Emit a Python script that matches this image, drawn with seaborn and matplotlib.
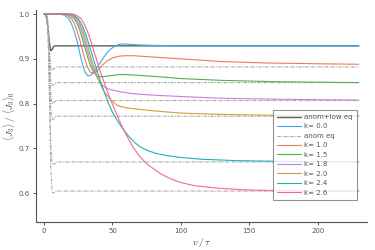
import numpy as np
import pandas as pd
import matplotlib
matplotlib.use("Agg")
import matplotlib.pyplot as plt
import seaborn as sns

# ---- data ----
t_black = [0, 1, 2, 3, 4, 5, 6, 7, 8, 230]
v_black = [1.0, 0.999, 0.99, 0.965, 0.935, 0.918, 0.921, 0.927, 0.929, 0.929]

t_anom = [0, 2, 3, 4, 5, 6, 7, 9, 230]
v_anom_10 = [1.0, 0.998, 0.98, 0.92, 0.876, 0.874, 0.878, 0.882, 0.882]
v_anom_15 = [1.0, 0.998, 0.975, 0.90, 0.850, 0.840, 0.842, 0.847, 0.847]
v_anom_18 = [1.0, 0.998, 0.970, 0.88, 0.815, 0.800, 0.802, 0.807, 0.807]
v_anom_20 = [1.0, 0.998, 0.965, 0.86, 0.785, 0.765, 0.766, 0.772, 0.772]
v_anom_24 = [1.0, 0.998, 0.960, 0.83, 0.700, 0.665, 0.664, 0.670, 0.670]
v_anom_26 = [1.0, 0.998, 0.955, 0.81, 0.650, 0.603, 0.600, 0.605, 0.605]

t_k00 = [0, 12, 15, 18, 20, 22, 24, 26, 28, 30, 32, 34, 36, 38, 41, 44, 47, 50, 53, 56, 60, 65, 70, 80, 100, 230]
v_k00 = [1.0, 1.0, 0.997, 0.99, 0.979, 0.962, 0.942, 0.915, 0.889, 0.870, 0.862, 0.863, 0.869, 0.877, 0.891,
         0.905, 0.917, 0.925, 0.930, 0.933, 0.933, 0.932, 0.931, 0.930, 0.929, 0.929]

t_k10 = [0, 14, 17, 20, 22, 24, 26, 28, 30, 32, 34, 36, 38, 40, 43, 46, 50, 55, 60, 65, 70, 80, 100, 130, 160, 200, 230]
v_k10 = [1.0, 1.0, 0.997, 0.99, 0.98, 0.964, 0.944, 0.92, 0.897, 0.88, 0.870, 0.868, 0.871, 0.877, 0.887, 0.895,
         0.902, 0.906, 0.907, 0.907, 0.906, 0.904, 0.900, 0.894, 0.891, 0.889, 0.888]

t_k15 = [0, 16, 19, 22, 24, 26, 28, 30, 32, 34, 36, 38, 40, 42, 45, 50, 55, 60, 65, 70, 80, 100, 130, 170, 230]
v_k15 = [1.0, 1.0, 0.997, 0.99, 0.98, 0.965, 0.946, 0.924, 0.903, 0.885, 0.872, 0.864, 0.861, 0.860, 0.861, 0.863,
         0.865, 0.865, 0.864, 0.863, 0.861, 0.856, 0.852, 0.849, 0.847]

t_k18 = [0, 17, 20, 23, 25, 27, 29, 31, 33, 35, 37, 39, 41, 43, 45, 48, 52, 57, 63, 70, 80, 100, 130, 170, 230]
v_k18 = [1.0, 1.0, 0.997, 0.99, 0.98, 0.966, 0.948, 0.926, 0.905, 0.886, 0.870, 0.857, 0.847, 0.840, 0.836, 0.832,
         0.829, 0.826, 0.823, 0.821, 0.819, 0.816, 0.812, 0.810, 0.808]

t_k20 = [0, 18, 21, 24, 26, 28, 30, 32, 34, 36, 38, 40, 42, 44, 47, 50, 53, 57, 62, 68, 80, 100, 130, 170, 230]
v_k20 = [1.0, 1.0, 0.997, 0.99, 0.98, 0.966, 0.948, 0.927, 0.906, 0.886, 0.868, 0.852, 0.838, 0.827, 0.815, 0.805,
         0.797, 0.793, 0.790, 0.788, 0.784, 0.779, 0.776, 0.774, 0.773]

t_k24 = [0, 19, 22, 25, 27, 29, 31, 33, 35, 37, 39, 41, 43, 45, 47, 50, 54, 58, 62, 66, 70, 76, 82, 90, 100, 115, 140, 180, 230]
v_k24 = [1.0, 1.0, 0.997, 0.99, 0.98, 0.967, 0.95, 0.931, 0.911, 0.891, 0.871, 0.852, 0.835, 0.818, 0.802, 0.781,
         0.760, 0.742, 0.727, 0.714, 0.704, 0.695, 0.689, 0.684, 0.680, 0.676, 0.673, 0.671, 0.670]

t_k26 = [0, 21, 24, 27, 29, 31, 33, 35, 37, 39, 41, 43, 45, 47, 50, 53, 56, 60, 65, 70, 75, 80, 85, 92, 100, 110, 125, 145, 170, 200, 230]
v_k26 = [1.0, 1.0, 0.997, 0.99, 0.98, 0.967, 0.951, 0.932, 0.912, 0.892, 0.873, 0.855, 0.838, 0.822, 0.799, 0.777,
         0.756, 0.731, 0.703, 0.682, 0.666, 0.655, 0.644, 0.633, 0.624, 0.617, 0.612, 0.608, 0.606, 0.605, 0.605]

k_labels = ["k= 1.0", "k= 1.5", "k= 1.8", "k= 2.0", "k= 2.4", "k= 2.6"]
x_ticks = [0, 50, 100, 150, 200]
y_ticks = [0.6, 0.7, 0.8, 0.9, 1.0]

# ---- style ----
sns.set_style("ticks")
plt.rcParams["font.family"] = ["DejaVu Sans"]
plt.rcParams["mathtext.fontset"] = "cm"

fig, ax = plt.subplots(figsize=(3.75, 2.5), dpi=100)
fig.subplots_adjust(left=0.096, right=0.978, bottom=0.112, top=0.96)

col_black = "#5e5e5e"
col_anom = "#a8a8a8"
anom_ls = (0, (3, 1, 1, 1))
colors = {
    "k= 0.0": "#3fa7ee",
    "k= 1.0": "#ee7a58",
    "k= 1.5": "#4fb150",
    "k= 1.8": "#c97fe2",
    "k= 2.0": "#c4a33a",
    "k= 2.4": "#22b3b3",
    "k= 2.6": "#f2679b",
}
lw = 0.8

anom_sets = [v_anom_10, v_anom_15, v_anom_18, v_anom_20, v_anom_24, v_anom_26]

sns.lineplot(x=t_black, y=v_black, ax=ax, color=col_black, lw=1.0, sort=False,
             estimator=None, label="anom+low eq")
sns.lineplot(x=t_k00, y=v_k00, ax=ax, color=colors["k= 0.0"], lw=lw, sort=False,
             estimator=None, label="k= 0.0")
for i, va in enumerate(anom_sets):
    sns.lineplot(x=t_anom, y=va, ax=ax, color=col_anom, lw=0.8, linestyle=anom_ls,
                 sort=False, estimator=None, label="anom eq" if i == 0 else None)

series = [(t_k10, v_k10), (t_k15, v_k15), (t_k18, v_k18), (t_k20, v_k20), (t_k24, v_k24), (t_k26, v_k26)]
for lab, (tt, vv) in zip(k_labels, series):
    sns.lineplot(x=tt, y=vv, ax=ax, color=colors[lab], lw=lw, sort=False,
                 estimator=None, label=lab)

ax.set_xlim(-5.85, 235.8)
ax.set_ylim(0.536, 1.009)
ax.set_xticks(x_ticks)
ax.set_yticks(y_ticks)
ax.set_yticklabels([f"{v:.1f}" for v in y_ticks])
ax.tick_params(axis="both", labelsize=5, length=2.5, width=0.7, colors="#555555",
               labelcolor="#555555", pad=2)
for s in ["left", "bottom"]:
    ax.spines[s].set_color("#555555")
    ax.spines[s].set_linewidth(0.8)
sns.despine(ax=ax)

ax.set_xlabel(r"$v\,/\,\tau$", fontsize=7, color="#333333", labelpad=1.5)
ax.set_ylabel(r"$\langle J_3\rangle\ /\ \langle J_3\rangle_0$", fontsize=6.5, color="#333333")
ax.yaxis.set_label_coords(-0.055, 0.5)

leg = ax.legend(loc="lower right", bbox_to_anchor=(0.971, 0.104), borderaxespad=0,
                fontsize=5, frameon=True, fancybox=False, handlelength=3.4,
                labelspacing=0.5, handletextpad=0.5, borderpad=0.6)
leg.get_frame().set_edgecolor("#777777")
leg.get_frame().set_linewidth(0.8)
for txt in leg.get_texts():
    txt.set_color("#555555")

fig.savefig("out.png", dpi=100)
